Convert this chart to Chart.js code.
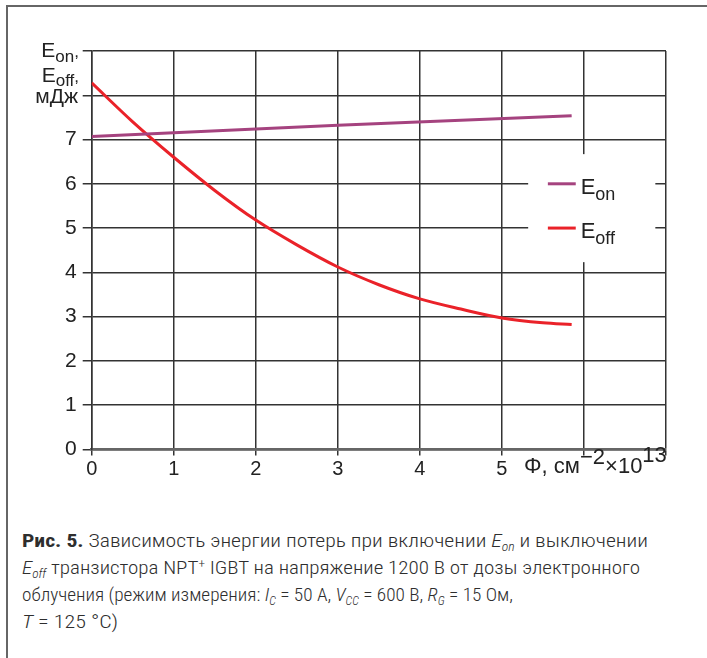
<!DOCTYPE html>
<html>
<head>
<meta charset="utf-8">
<script src="https://cdn.jsdelivr.net/npm/chart.js@4.4.1/dist/chart.umd.min.js"></script>
<style>
  body { margin: 0; background: #fff; width: 707px; height: 658px; overflow: hidden; position: relative; }
  #frame { position: absolute; left: 6px; top: 5px; width: 701px; height: 653px;
           border-top: 2px solid #666; border-left: 2px solid #666; box-sizing: border-box; }
  #chart { position: absolute; left: 0; top: 0; }
  #caption { position: absolute; left: 22px; top: 527px; color: #2e2e2e;
             font-family: "Roboto Condensed", "Liberation Sans Narrow", "DejaVu Sans Condensed", Roboto, sans-serif;
             font-size: 19px; line-height: 27px; font-weight: 300; }
  #caption div { white-space: nowrap; width: max-content; transform-origin: left center; }
  #caption b { font-weight: bold; }
  #caption sub { font-size: 12px; vertical-align: -4px; line-height: 0; }
  #caption sup { font-size: 12px; vertical-align: 6px; line-height: 0; }
</style>
</head>
<body>
<div id="frame"></div>
<canvas id="chart" width="707" height="500"></canvas>
<div id="caption">
  <div id="l1"><b>Рис. 5.</b> Зависимость энергии потерь при включении <i>E</i><sub><i>on</i></sub> и выключении</div>
  <div id="l2"><i>E</i><sub><i>off</i></sub> транзистора NPT<sup>+</sup> IGBT на напряжение 1200 В от дозы электронного</div>
  <div id="l3">облучения (режим измерения: <i>I</i><sub><i>C</i></sub> = 50 А, <i>V</i><sub><i>CC</i></sub> = 600 В, <i>R</i><sub><i>G</i></sub> = 15 Ом,</div>
  <div id="l4"><i>T</i> = 125 °C)</div>
</div>
<script>
// доза облучения, 10^13 см^-2
const doseOn = [0, 3, 5.85];
const eOn = [7.07, 7.32, 7.54];
const doseOff = [0, 0.5, 1, 1.5, 2, 2.5, 3, 3.5, 4, 4.5, 5, 5.5, 5.85];
const eOff = [8.28, 7.40, 6.60, 5.85, 5.18, 4.62, 4.12, 3.72, 3.40, 3.17, 2.97, 2.86, 2.82];

const xTicks = [0, 1, 2, 3, 4, 5];
const yTicks = [0, 1, 2, 3, 4, 5, 6, 7];
const seriesNames = [['E', 'on'], ['E', 'off']];
const seriesColors = ['#a5437f', '#ea2229'];

const FONT = '"Liberation Sans", Arial, sans-serif';
const INK = '#222';

// рисование текста с индексами
function drawRich(ctx, parts, x, y, align) {
    let total = 0;
    parts.forEach(p => {
        ctx.font = p.size + 'px ' + FONT;
        p.w = ctx.measureText(p.t).width;
        total += p.w;
    });
    let cx = align === 'right' ? x - total : x;
    parts.forEach(p => {
        ctx.font = p.size + 'px ' + FONT;
        ctx.fillText(p.t, cx, y + (p.dy || 0));
        cx += p.w;
    });
}

const labelsPlugin = {
    id: 'labels',
    afterDraw(chart) {
        const ctx = chart.ctx;
        const xs = chart.scales.x, ys = chart.scales.y;
        ctx.save();
        ctx.fillStyle = INK;
        ctx.textAlign = 'left';
        ctx.textBaseline = 'alphabetic';

        // подпись оси Y
        drawRich(ctx, [{t: 'E', size: 21}, {t: 'on', size: 17, dy: 5}, {t: ',', size: 17}], 79, 57, 'right');
        drawRich(ctx, [{t: 'E', size: 21}, {t: 'off', size: 17, dy: 4}, {t: ',', size: 17}], 79, 82, 'right');
        drawRich(ctx, [{t: 'мДж', size: 21}], 78, 103, 'right');

        // подпись оси X
        const bx = xs.getPixelForValue(5.27);
        const by = ys.getPixelForValue(0) + 24;
        drawRich(ctx, [{t: 'Φ, см', size: 22}, {t: '−2', size: 22, dy: -9}, {t: '×10', size: 22}, {t: '13', size: 22, dy: -11}], bx, by, 'left');

        // легенда
        const lx0 = xs.getPixelForValue(5.32), lx1 = xs.getPixelForValue(6.87);
        const ly0 = ys.getPixelForValue(6.67), ly1 = ys.getPixelForValue(4.23);
        ctx.fillStyle = '#fff';
        ctx.fillRect(lx0, ly0, lx1 - lx0, ly1 - ly0);
        [6, 5].forEach((v, i) => {
            const yy = ys.getPixelForValue(v);
            ctx.strokeStyle = seriesColors[i];
            ctx.lineWidth = 3;
            ctx.beginPath();
            ctx.moveTo(xs.getPixelForValue(5.56), yy);
            ctx.lineTo(xs.getPixelForValue(5.9), yy);
            ctx.stroke();
            ctx.fillStyle = INK;
            drawRich(ctx, [{t: seriesNames[i][0], size: 22}, {t: seriesNames[i][1], size: 18, dy: 6}],
                xs.getPixelForValue(5.96), yy + 10, 'left');
        });
        ctx.restore();
    }
};

new Chart(document.getElementById('chart'), {
    type: 'line',
    data: {
        datasets: [{
            label: 'Eon',
            data: doseOn.map((d, i) => ({x: d, y: eOn[i]})),
            borderColor: seriesColors[0],
            borderWidth: 3,
            pointRadius: 0,
            tension: 0
        }, {
            label: 'Eoff',
            data: doseOff.map((d, i) => ({x: d, y: eOff[i]})),
            borderColor: seriesColors[1],
            borderWidth: 3,
            pointRadius: 0,
            cubicInterpolationMode: 'monotone'
        }]
    },
    options: {
        responsive: false,
        animation: false,
        layout: { padding: { top: 51, right: 41, left: 0, bottom: 0 } },
        plugins: { legend: { display: false }, tooltip: { enabled: false } },
        scales: {
            x: {
                type: 'linear', min: 0, max: 7,
                afterFit: s => { s.height = 50.6; },
                afterBuildTicks: s => { s.ticks = [0, 1, 2, 3, 4, 5, 6, 7].map(v => ({value: v})); },
                ticks: {
                    font: { size: 20, family: FONT }, color: INK, padding: 2,
                    callback: v => xTicks.includes(v) ? String(v) : ''
                },
                grid: { color: '#333', lineWidth: 1.5, tickLength: 6 },
                border: { color: '#666', width: 2.5 }
            },
            y: {
                min: 0, max: 9,
                afterFit: s => { s.width = 91.7; },
                afterBuildTicks: s => { s.ticks = [0, 1, 2, 3, 4, 5, 6, 7, 8, 9].map(v => ({value: v})); },
                ticks: {
                    font: { size: 21, family: FONT }, color: INK, padding: 6,
                    callback: v => yTicks.includes(v) ? String(v) : ''
                },
                grid: { color: '#333', lineWidth: 1.5, tickLength: 9 },
                border: { color: '#333', width: 1.5 }
            }
        }
    },
    plugins: [labelsPlugin]
});

// подгонка ширины строк подписи
const lineWidths = { l1: 626, l2: 618, l3: 491, l4: 96 };
Object.keys(lineWidths).forEach(id => {
    const el = document.getElementById(id);
    const w = el.getBoundingClientRect().width;
    el.style.transform = 'scaleX(' + (lineWidths[id] / w) + ')';
});
</script>
</body>
</html>
